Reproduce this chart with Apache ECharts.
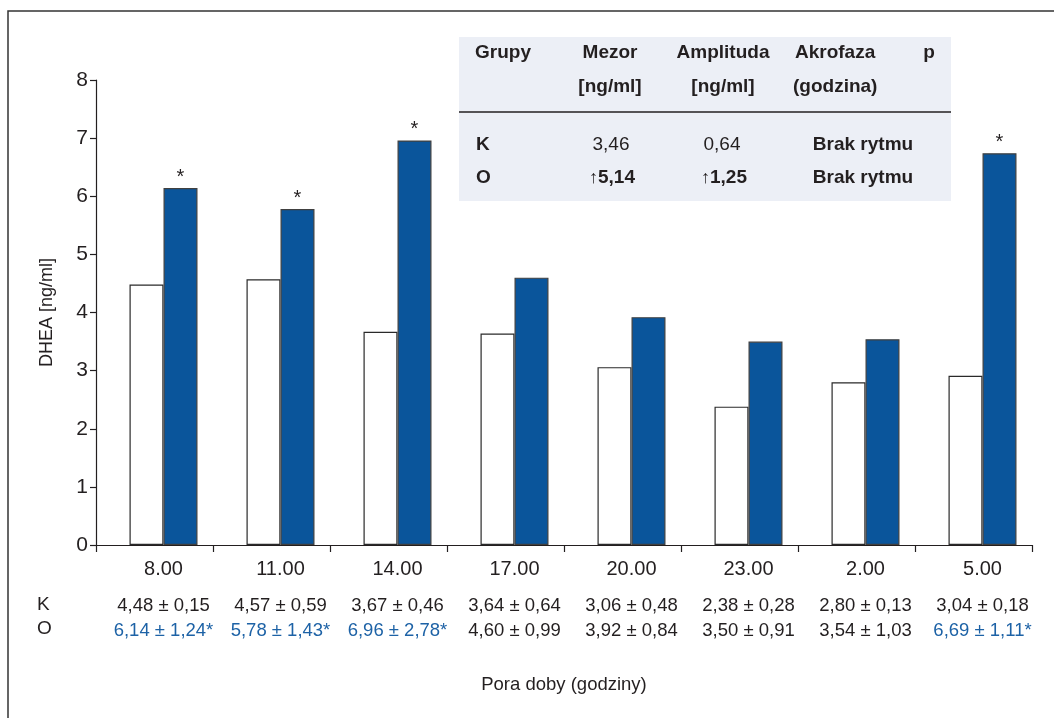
<!DOCTYPE html>
<html>
<head>
<meta charset="utf-8">
<script src="https://cdn.jsdelivr.net/npm/echarts@6/dist/echarts.min.js"></script>
<style>
html,body{margin:0;padding:0;background:#fff;}
#chart{width:1054px;height:718px;}
</style>
</head>
<body>
<div id="chart"></div>
<script>
// ---- data ----
var categories = ['8.00', '11.00', '14.00', '17.00', '20.00', '23.00', '2.00', '5.00'];
var kValues = [4.48, 4.57, 3.67, 3.64, 3.06, 2.38, 2.80, 2.91];
var oValues = [6.14, 5.78, 6.96, 4.60, 3.92, 3.50, 3.54, 6.74];
var oSignificant = [true, true, true, false, false, false, false, true];
var kText = ['4,48 ± 0,15', '4,57 ± 0,59', '3,67 ± 0,46', '3,64 ± 0,64', '3,06 ± 0,48', '2,38 ± 0,28', '2,80 ± 0,13', '3,04 ± 0,18'];
var oText = ['6,14 ± 1,24*', '5,78 ± 1,43*', '6,96 ± 2,78*', '4,60 ± 0,99', '3,92 ± 0,84', '3,50 ± 0,91', '3,54 ± 1,03', '6,69 ± 1,11*'];
var groupNames = ['K', 'O'];
var yTicks = { min: 0, max: 8, interval: 1 };
var tableHead1 = ['Grupy', 'Mezor', 'Amplituda', 'Akrofaza', 'p'];
var tableHead2 = ['', '[ng/ml]', '[ng/ml]', '(godzina)', ''];
var tableK = ['K', '3,46', '0,64', 'Brak rytmu'];
var tableO = ['O', '5,14', '1,25', 'Brak rytmu'];

var FONT = "'Liberation Sans', Arial, sans-serif";
var BLUE = '#0a559b';
var TXT = '#231f20';
var BLUE_TXT = '#1d62a6';

var chart = echarts.init(document.getElementById('chart'), null, { renderer: 'canvas' });

var tableTexts = [];
function t(x, y, text, align, bold, color) {
  tableTexts.push({
    type: 'text', x: x, y: y,
    style: { text: text, fill: color || TXT, font: (bold ? 'bold ' : '') + '19px ' + FONT, textAlign: align, textVerticalAlign: 'middle' }
  });
}
// header rows
t(475, 53, tableHead1[0], 'left', true);
t(610, 53, tableHead1[1], 'center', true);
t(723, 53, tableHead1[2], 'center', true);
t(795, 53, tableHead1[3], 'left', true);
t(929, 53, tableHead1[4], 'center', true);
t(610, 87, tableHead2[1], 'center', true);
t(723, 87, tableHead2[2], 'center', true);
t(793, 87, tableHead2[3], 'left', true);
// K row
t(476, 145, tableK[0], 'left', true);
t(611, 145, tableK[1], 'center', false);
t(722, 145, tableK[2], 'center', false);
t(863, 145, tableK[3], 'center', true);
// O row
t(476, 178, tableO[0], 'left', true);
tableTexts.push({
  type: 'text', x: 612, y: 178,
  style: { text: '{a|↑}{b|' + tableO[1] + '}', textAlign: 'center', textVerticalAlign: 'middle',
    rich: { a: { font: '18px ' + FONT, fill: TXT }, b: { font: 'bold 19px ' + FONT, fill: TXT } } }
});
tableTexts.push({
  type: 'text', x: 724, y: 178,
  style: { text: '{a|↑}{b|' + tableO[2] + '}', textAlign: 'center', textVerticalAlign: 'middle',
    rich: { a: { font: '18px ' + FONT, fill: TXT }, b: { font: 'bold 19px ' + FONT, fill: TXT } } }
});
t(863, 178, tableO[3], 'center', true);

var option = {
  backgroundColor: '#ffffff',
  animation: false,
  textStyle: { fontFamily: FONT },
  grid: { left: 96, right: 22, top: 80, bottom: 173, containLabel: false },
  xAxis: {
    type: 'category',
    data: categories,
    boundaryGap: true,
    axisLine: { lineStyle: { color: TXT, width: 1.2 } },
    axisTick: { show: true, length: 7, inside: false, interval: 0, lineStyle: { color: TXT, width: 1.2 } },
    axisLabel: {
      interval: 0,
      margin: 0,
      padding: [0, 0, 0, 18],
      formatter: function (value, idx) {
        return '{c|' + value + '}\n{k|' + kText[idx] + '}\n{' + (oSignificant[idx] ? 'os' : 'o') + '|' + oText[idx] + '}';
      },
      rich: {
        c: { fontSize: 20, lineHeight: 48, color: TXT, fontFamily: FONT },
        k: { fontSize: 18.5, lineHeight: 25, color: TXT, fontFamily: FONT },
        o: { fontSize: 18.5, lineHeight: 25, color: TXT, fontFamily: FONT },
        os: { fontSize: 18.5, lineHeight: 25, color: BLUE_TXT, fontFamily: FONT }
      }
    },
    name: 'Pora doby (godziny)',
    nameLocation: 'middle',
    nameGap: 130,
    nameTextStyle: { fontSize: 18.5, color: TXT, fontFamily: FONT },
    splitLine: { show: false }
  },
  yAxis: {
    type: 'value',
    min: yTicks.min,
    max: yTicks.max,
    interval: yTicks.interval,
    axisLine: { show: true, lineStyle: { color: TXT, width: 1.2 } },
    axisTick: { show: true, length: 6, inside: false, lineStyle: { color: TXT, width: 1.2 } },
    axisLabel: { fontSize: 21, color: TXT, margin: 8, fontFamily: FONT },
    splitLine: { show: false },
    name: 'DHEA [ng/ml]',
    nameLocation: 'middle',
    nameGap: 40,
    nameRotate: 90,
    nameTextStyle: { fontSize: 18, color: TXT, fontFamily: FONT }
  },
  series: [
    {
      name: 'spacer', type: 'bar', barWidth: 18, barGap: '0%', silent: true,
      data: categories.map(function () { return 0; }),
      itemStyle: { opacity: 0 }, label: { show: false }, tooltip: { show: false }
    },
    {
      name: groupNames[0], type: 'bar', barWidth: 34, barGap: '0%',
      data: kValues,
      itemStyle: { color: '#ffffff', borderColor: '#2a2a2a', borderWidth: 1.2 }
    },
    {
      name: groupNames[1], type: 'bar', barWidth: 34, barGap: '0%',
      data: oValues,
      itemStyle: { color: BLUE, borderColor: '#404040', borderWidth: 1.2 },
      label: {
        show: true, position: 'top', distance: 1,
        formatter: function (p) { return oSignificant[p.dataIndex] ? '*' : ''; },
        fontSize: 20, color: TXT, fontFamily: FONT
      }
    }
  ],
  graphic: [
    { type: 'rect', shape: { x: 8, y: 11, width: 1200, height: 900 }, style: { fill: 'none', stroke: '#333', lineWidth: 1.5 }, silent: true, z: -1 },
    { type: 'rect', shape: { x: 459, y: 37, width: 492, height: 164 }, style: { fill: '#eceff6' }, silent: true, z: 0 },
    { type: 'line', shape: { x1: 459, y1: 112, x2: 951, y2: 112 }, style: { stroke: '#231f20', lineWidth: 1.6 }, silent: true, z: 1 },
    { type: 'group', z: 2, children: tableTexts },
    { type: 'text', x: 37, y: 605, style: { text: groupNames[0], font: '19px ' + FONT, fill: TXT, textAlign: 'left', textVerticalAlign: 'middle' } },
    { type: 'text', x: 37, y: 629, style: { text: groupNames[1], font: '19px ' + FONT, fill: TXT, textAlign: 'left', textVerticalAlign: 'middle' } }
  ]
};
chart.setOption(option);
</script>
</body>
</html>
